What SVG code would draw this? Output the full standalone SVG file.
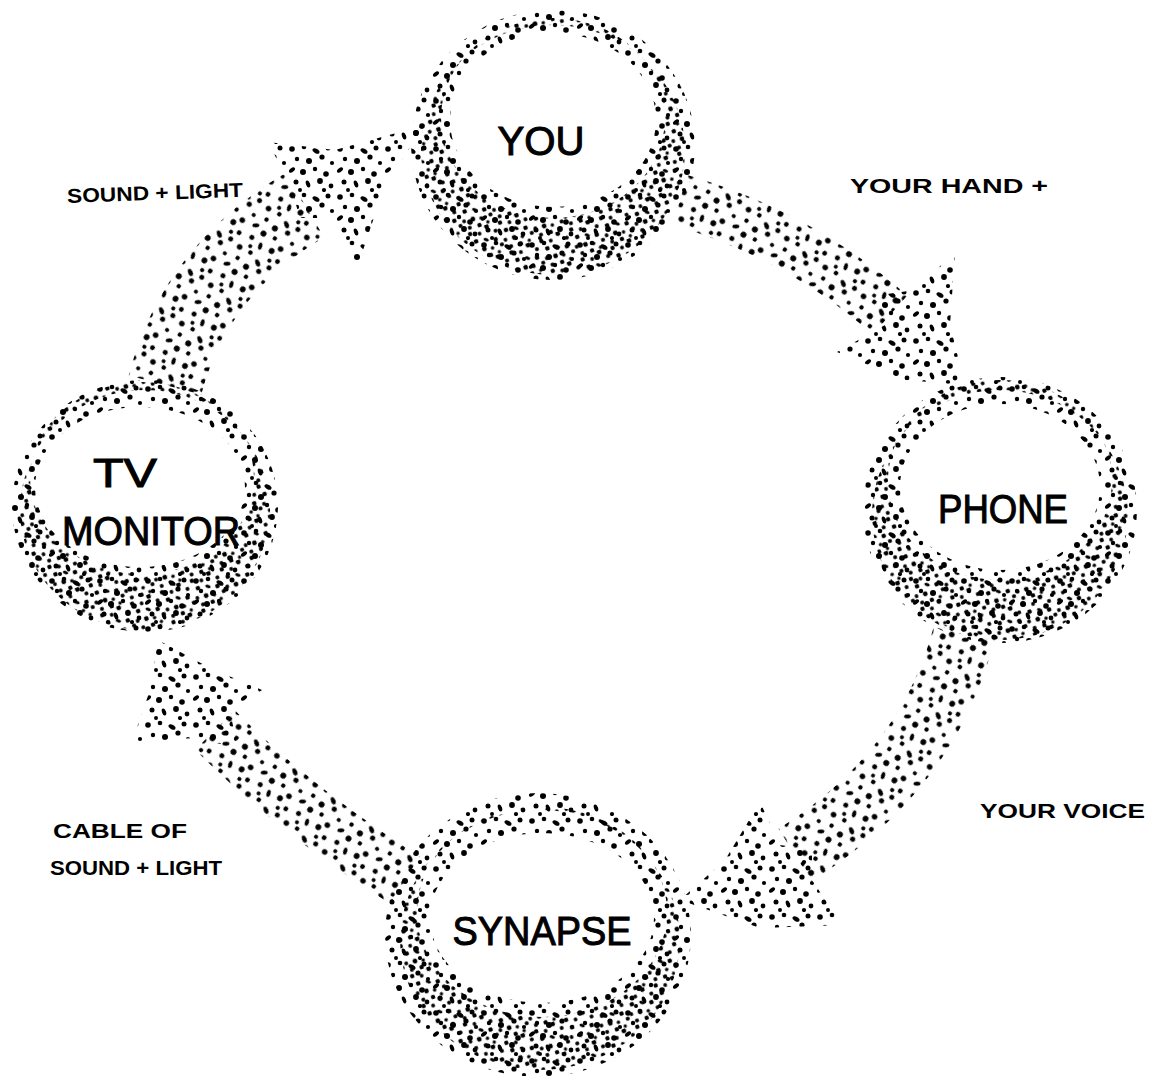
<svg xmlns="http://www.w3.org/2000/svg" xmlns:xlink="http://www.w3.org/1999/xlink" width="1153" height="1076" viewBox="0 0 1153 1076">
<defs>
<pattern id="st" width="48" height="48" patternUnits="userSpaceOnUse">
<g fill="#000">
<circle cx="4" cy="5" r="2.8"/><circle cx="16" cy="3" r="2.3"/><ellipse cx="28" cy="7" rx="3.8" ry="2.2" transform="rotate(30 28 7)"/><circle cx="40" cy="4" r="2.5"/>
<circle cx="9" cy="15" r="2.2"/><circle cx="21" cy="17" r="3"/><circle cx="34" cy="13" r="2.6"/><circle cx="44" cy="19" r="2.1"/>
<ellipse cx="4" cy="26" rx="3.5" ry="2" transform="rotate(-40 4 26)"/><circle cx="15" cy="28" r="3"/><circle cx="27" cy="25" r="2.2"/><circle cx="38" cy="30" r="2.8"/>
<circle cx="8" cy="38" r="2.5"/><ellipse cx="20" cy="40" rx="3.6" ry="2" transform="rotate(70 20 40)"/><circle cx="32" cy="37" r="2.9"/><circle cx="43" cy="42" r="2.4"/>
<circle cx="12" cy="46" r="2"/><circle cx="36" cy="46" r="2.1"/>
</g>
</pattern>
<pattern id="st2" href="#st" xlink:href="#st" patternTransform="rotate(37)"/>
<pattern id="sd" width="32" height="32" patternUnits="userSpaceOnUse" patternTransform="rotate(-21)">
<g fill="#000">
<circle cx="3" cy="3" r="2.2"/><circle cx="12" cy="6" r="1.9"/><circle cx="21" cy="2" r="2.4"/><circle cx="28" cy="9" r="2"/>
<circle cx="6" cy="12" r="2.3"/><ellipse cx="16" cy="14" rx="2.8" ry="1.6" transform="rotate(40 16 14)"/><circle cx="25" cy="17" r="2.3"/><circle cx="2" cy="21" r="1.9"/>
<circle cx="11" cy="22" r="2.4"/><circle cx="19" cy="24" r="1.8"/><circle cx="29" cy="24" r="2.1"/><circle cx="5" cy="29" r="2"/>
<circle cx="15" cy="30" r="2.2"/><circle cx="24" cy="30" r="1.7"/>
</g>
</pattern>
</defs>
<style>
.ring{fill:url(#st);fill-rule:evenodd}
.shade{fill:url(#sd);fill-rule:evenodd}
.band{fill:none;stroke:url(#st2);stroke-linecap:butt}
.head{fill:url(#st)}
.nt{font-family:"Liberation Sans",Arial,sans-serif;font-size:40px;fill:#000;stroke:#000;stroke-width:1;text-anchor:middle}
.lb{font-family:"Liberation Sans",Arial,sans-serif;font-weight:bold;font-size:20px;fill:#000}
</style>
<rect width="1153" height="1076" fill="#fff"/>

<g id="connectors">
<path class="band" stroke-width="52" d="M680,200 Q800,235 890,315"/>
<polygon class="head" points="965,385 905,380 837,352 885,325 880,295 915,290 955,252 950,325"/>
<path class="band" stroke-width="62" d="M965,630 Q930,770 795,855"/>
<polygon class="head" points="680,900 725,860 760,802 780,845 812,850 812,880 842,925 760,928"/>
<path class="band" stroke-width="56" d="M215,730 Q300,815 405,880"/>
<polygon class="head" points="158,640 210,668 262,690 230,712 238,748 195,738 132,742 150,690"/>
<path class="band" stroke-width="75" d="M165,385 Q195,270 305,205"/>
<polygon class="head" points="425,125 385,185 357,268 330,218 300,218 290,185 268,142 335,150"/>
<text class="lb" x="67" y="200" textLength="176" lengthAdjust="spacingAndGlyphs" transform="rotate(-2 150 192)">SOUND + LIGHT</text>
<text class="lb" x="850" y="193" font-size="24" textLength="198" lengthAdjust="spacingAndGlyphs">YOUR HAND +</text>
<text class="lb" x="980" y="818" font-size="25" textLength="165" lengthAdjust="spacingAndGlyphs">YOUR VOICE</text>
<text class="lb" x="53" y="838" textLength="134" lengthAdjust="spacingAndGlyphs">CABLE OF</text>
<text class="lb" x="50" y="875" textLength="172" lengthAdjust="spacingAndGlyphs">SOUND + LIGHT</text>
</g>

<g id="node-you">
<path class="ring" d="M411,145 a142,135 0 1,0 284,0 a142,135 0 1,0 -284,0Z M450,120 a103,87 0 1,0 206,0 a103,87 0 1,0 -206,0Z"/>
<path class="shade" d="M421,150 a132,125 0 1,0 264,0 a132,125 0 1,0 -264,0Z M441,118 a112,100 0 1,0 224,0 a112,100 0 1,0 -224,0Z"/>
<text class="nt" x="541" y="155" textLength="87" lengthAdjust="spacingAndGlyphs">YOU</text>
</g>

<g id="node-phone">
<path class="ring" d="M863,510 a137,133 0 1,0 274,0 a137,133 0 1,0 -274,0Z M900,487 a100,83 0 1,0 200,0 a100,83 0 1,0 -200,0Z"/>
<path class="shade" d="M872,515 a128,125 0 1,0 256,0 a128,125 0 1,0 -256,0Z M888,480 a112,100 0 1,0 224,0 a112,100 0 1,0 -224,0Z"/>
<text class="nt" x="1003" y="523" textLength="130" lengthAdjust="spacingAndGlyphs">PHONE</text>
</g>

<g id="node-synapse">
<path class="ring" d="M385,935 a153,142 0 1,0 306,0 a153,142 0 1,0 -306,0Z M430,918 a112,85 0 1,0 224,0 a112,85 0 1,0 -224,0Z"/>
<path class="shade" d="M400,940 a140,130 0 1,0 280,0 a140,130 0 1,0 -280,0Z M417,912 a125,105 0 1,0 250,0 a125,105 0 1,0 -250,0Z"/>
<text class="nt" x="542" y="945" textLength="179" lengthAdjust="spacingAndGlyphs">SYNAPSE</text>
</g>

<g id="node-tv">
<path class="ring" d="M12,506 a133,126 0 1,0 266,0 a133,126 0 1,0 -266,0Z M35,487 a105,80 0 1,0 210,0 a105,80 0 1,0 -210,0Z"/>
<path class="shade" d="M20,510 a125,120 0 1,0 250,0 a125,120 0 1,0 -250,0Z M30,478 a112,96 0 1,0 224,0 a112,96 0 1,0 -224,0Z"/>
<text class="nt" x="125" y="487" textLength="64" lengthAdjust="spacingAndGlyphs">TV</text>
<text class="nt" x="151" y="545" textLength="178" lengthAdjust="spacingAndGlyphs">MONITOR</text>
</g>
</svg>
